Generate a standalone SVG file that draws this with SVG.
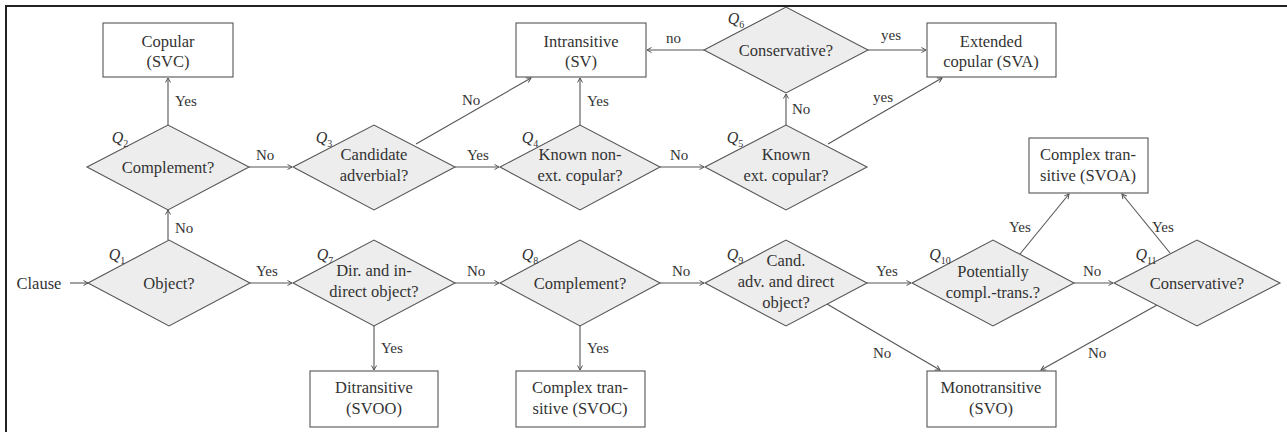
<svg xmlns="http://www.w3.org/2000/svg" width="1287" height="432" viewBox="0 0 1287 432" font-family="'Liberation Serif', 'DejaVu Serif', serif">
<style>
text{font-family:'Liberation Serif','DejaVu Serif',serif;fill:#333;}
.t{font-size:16.5px;text-anchor:middle;}
.l{font-size:15px;}
.q{font-size:16px;font-style:italic;text-anchor:middle;}
.s{font-size:10px;font-style:normal;}
.d{fill:#ededed;stroke:#555;stroke-width:1.1;}
.b{fill:#fff;stroke:#555;stroke-width:1.1;}
.e{fill:none;stroke:#555;stroke-width:1.1;marker-end:url(#a);}
</style>
<defs>
<marker id="a" markerWidth="8" markerHeight="8" refX="6" refY="4" orient="auto" markerUnits="userSpaceOnUse">
<path d="M1.5,1.5 L6,4 L1.5,6.5" fill="none" stroke="#555" stroke-width="1"/>
</marker>
</defs>
<rect x="0" y="0" width="1287" height="432" fill="#fff"/>
<path d="M6,432 V6 H1287" fill="none" stroke="#222" stroke-width="2"/>

<g id="connectors">
<line class="e" x1="70" y1="283" x2="88" y2="283"/>
<line class="e" x1="168" y1="240" x2="168" y2="210"/>
<line class="e" x1="168" y1="125" x2="168" y2="78"/>
<line class="e" x1="249" y1="167" x2="292" y2="167"/>
<line class="e" x1="416" y1="144" x2="531" y2="78"/>
<line class="e" x1="455" y1="167" x2="499" y2="167"/>
<line class="e" x1="580" y1="125" x2="580" y2="78"/>
<line class="e" x1="660" y1="167" x2="704" y2="167"/>
<line class="e" x1="786" y1="125" x2="786" y2="94"/>
<line class="e" x1="704" y1="50" x2="647" y2="50"/>
<line class="e" x1="868" y1="50" x2="926" y2="50"/>
<line class="e" x1="828" y1="144" x2="942" y2="78"/>
<line class="e" x1="250" y1="283" x2="292" y2="283"/>
<line class="e" x1="374" y1="326" x2="374" y2="370"/>
<line class="e" x1="455" y1="283" x2="499" y2="283"/>
<line class="e" x1="580" y1="326" x2="580" y2="370"/>
<line class="e" x1="660" y1="283" x2="704" y2="283"/>
<line class="e" x1="867" y1="283" x2="911" y2="283"/>
<line class="e" x1="827" y1="304" x2="940" y2="370"/>
<line class="e" x1="1020" y1="254" x2="1069" y2="194"/>
<line class="e" x1="1074" y1="283" x2="1113" y2="283"/>
<line class="e" x1="1170" y1="253" x2="1122" y2="194"/>
<line class="e" x1="1157" y1="305" x2="1041" y2="370"/>
<text class="l" x="175" y="233">No</text>
<text class="l" x="175" y="106">Yes</text>
<text class="l" x="256" y="160">No</text>
<text class="l" x="462" y="105">No</text>
<text class="l" x="467" y="160">Yes</text>
<text class="l" x="587" y="106">Yes</text>
<text class="l" x="670" y="160">No</text>
<text class="l" x="792" y="114">No</text>
<text class="l" x="666" y="43">no</text>
<text class="l" x="881" y="40">yes</text>
<text class="l" x="873" y="102">yes</text>
<text class="l" x="256" y="276">Yes</text>
<text class="l" x="381" y="353">Yes</text>
<text class="l" x="467" y="276">No</text>
<text class="l" x="587" y="353">Yes</text>
<text class="l" x="672" y="276">No</text>
<text class="l" x="876" y="276">Yes</text>
<text class="l" x="873" y="358">No</text>
<text class="l" x="1009" y="232">Yes</text>
<text class="l" x="1083" y="276">No</text>
<text class="l" x="1152" y="232">Yes</text>
<text class="l" x="1088" y="358">No</text>
</g>

<g id="clause"><text class="t" x="39" y="289">Clause</text></g>

<g id="q1"><polygon class="d" points="88,283 169,240 250,283 169,326"/><text class="t" x="169" y="289">Object?</text><text class="q" x="117" y="260">Q<tspan class="s" dy="4">1</tspan></text></g>
<g id="q2"><polygon class="d" points="87,167 168,125 249,167 168,210"/><text class="t" x="168" y="173">Complement?</text><text class="q" x="120" y="143">Q<tspan class="s" dy="4">2</tspan></text></g>
<g id="q3"><polygon class="d" points="293,167 374,125 455,167 374,210"/><text class="t" x="374" y="160">Candidate</text><text class="t" x="374" y="181">adverbial?</text><text class="q" x="324" y="143">Q<tspan class="s" dy="4">3</tspan></text></g>
<g id="q4"><polygon class="d" points="500,167 580,125 660,167 580,210"/><text class="t" x="580" y="160">Known non-</text><text class="t" x="580" y="181">ext. copular?</text><text class="q" x="530" y="143">Q<tspan class="s" dy="4">4</tspan></text></g>
<g id="q5"><polygon class="d" points="705,167 786,125 867,167 786,210"/><text class="t" x="786" y="160">Known</text><text class="t" x="786" y="181">ext. copular?</text><text class="q" x="735" y="143">Q<tspan class="s" dy="4">5</tspan></text></g>
<g id="q6"><polygon class="d" points="704,50 786,7 868,50 786,93"/><text class="t" x="786" y="56">Conservative?</text><text class="q" x="736" y="24">Q<tspan class="s" dy="4">6</tspan></text></g>
<g id="q7"><polygon class="d" points="293,283 374,240 455,283 374,326"/><text class="t" x="374" y="276">Dir. and in-</text><text class="t" x="374" y="297">direct object?</text><text class="q" x="325" y="260">Q<tspan class="s" dy="4">7</tspan></text></g>
<g id="q8"><polygon class="d" points="500,283 580,240 660,283 580,326"/><text class="t" x="580" y="289">Complement?</text><text class="q" x="530" y="260">Q<tspan class="s" dy="4">8</tspan></text></g>
<g id="q9"><polygon class="d" points="705,283 786,240 867,283 786,326"/><text class="t" x="786" y="266">Cand.</text><text class="t" x="786" y="287">adv. and direct</text><text class="t" x="786" y="308">object?</text><text class="q" x="735" y="260">Q<tspan class="s" dy="4">9</tspan></text></g>
<g id="q10"><polygon class="d" points="912,283 993,240 1074,283 993,326"/><text class="t" x="993" y="277">Potentially</text><text class="t" x="993" y="298">compl.-trans.?</text><text class="q" x="940" y="260">Q<tspan class="s" dy="4">10</tspan></text></g>
<g id="q11"><polygon class="d" points="1114,283 1197,240 1280,283 1197,326"/><text class="t" x="1197" y="289">Conservative?</text><text class="q" x="1146" y="260">Q<tspan class="s" dy="4">11</tspan></text></g>

<g id="copular"><rect class="b" x="103" y="23" width="130" height="54"/><text class="t" x="168" y="47">Copular</text><text class="t" x="168" y="67">(SVC)</text></g>
<g id="intransitive"><rect class="b" x="516" y="23" width="130" height="54"/><text class="t" x="581" y="47">Intransitive</text><text class="t" x="581" y="67">(SV)</text></g>
<g id="extcopular"><rect class="b" x="927" y="23" width="129" height="54"/><text class="t" x="991" y="47">Extended</text><text class="t" x="991" y="67">copular (SVA)</text></g>
<g id="ditransitive"><rect class="b" x="310" y="371" width="128" height="56"/><text class="t" x="374" y="393">Ditransitive</text><text class="t" x="374" y="414">(SVOO)</text></g>
<g id="svoc"><rect class="b" x="516" y="371" width="129" height="56"/><text class="t" x="580" y="393">Complex tran-</text><text class="t" x="580" y="414">sitive (SVOC)</text></g>
<g id="svoa"><rect class="b" x="1029" y="138" width="119" height="55"/><text class="t" x="1088" y="160">Complex tran-</text><text class="t" x="1088" y="181">sitive (SVOA)</text></g>
<g id="monotransitive"><rect class="b" x="927" y="371" width="129" height="56"/><text class="t" x="991" y="393">Monotransitive</text><text class="t" x="991" y="414">(SVO)</text></g>
</svg>
